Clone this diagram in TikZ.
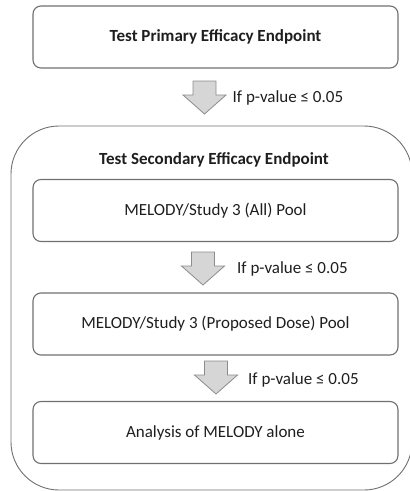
\documentclass[tikz,border=0pt]{standalone}
\usepackage{fontspec}
\setmainfont{Carlito}
\definecolor{boxline}{HTML}{707070}
\definecolor{arrowfill}{HTML}{D6D6D6}
\definecolor{arrowline}{HTML}{8C8C8C}
\definecolor{ink}{HTML}{1E1E1E}
\tikzset{
    stepbox/.style={draw=boxline, line width=1.1pt, rounded corners=8pt,
        minimum width=365pt, minimum height=62pt, text=ink},
    groupbox/.style={draw=boxline, line width=0.9pt, rounded corners=48pt,
        minimum width=401pt, minimum height=364pt},
    condlabel/.style={anchor=west, text=ink, inner sep=0pt},
    pics/downarrow/.style={code={
        \draw[fill=arrowfill, draw=arrowline, line width=0.8pt]
            (-11.5,0) -- (11.5,0) -- (11.5,14) -- (21.5,14) -- (0,33)
            -- (-21.5,14) -- (-11.5,14) -- cycle;
    }}
}
\begin{document}
\begin{tikzpicture}[x=1pt, y=-1pt, font=\fontsize{17}{20}\selectfont]
                \useasboundingbox (0, 0) rectangle (410, 491);

                % outer group for the secondary endpoint
                \node[groupbox] (secondary) at (211.5, 308) {};
                \node[text=ink, font=\fontsize{17}{20}\selectfont\bfseries] (secondarytitle) at (214, 160) {Test Secondary Efficacy Endpoint};

                \node[stepbox, font=\fontsize{17}{20}\selectfont\bfseries] (primary) at (215.5, 37) {Test Primary Efficacy Endpoint};

                \node[stepbox] (allpool) at (215.5, 210.5) {MELODY/Study 3 (All) Pool};

                \node[stepbox] (dosepool) at (215.5, 324) {MELODY/Study 3 (Proposed Dose) Pool};

                \node[stepbox] (melody) at (215.5, 432.5) {Analysis of MELODY alone};

                % block arrows between the steps
                \coordinate (arrowA) at (204.5, 81);
                \coordinate (arrowB) at (203, 252);
                \coordinate (arrowC) at (216, 361);

                \pic at (arrowA) {downarrow};
                \pic at (arrowB) {downarrow};
                \pic at (arrowC) {downarrow};

                \node[condlabel] (condA) at ([xshift=28pt, yshift=-17pt]arrowA) {If p-value ≤ 0.05};
                \node[condlabel] (condB) at ([xshift=34pt, yshift=-17pt]arrowB) {If p-value ≤ 0.05};
                \node[condlabel] (condC) at ([xshift=32pt, yshift=-19pt]arrowC) {If p-value ≤ 0.05};
            \end{tikzpicture}
\end{document}
